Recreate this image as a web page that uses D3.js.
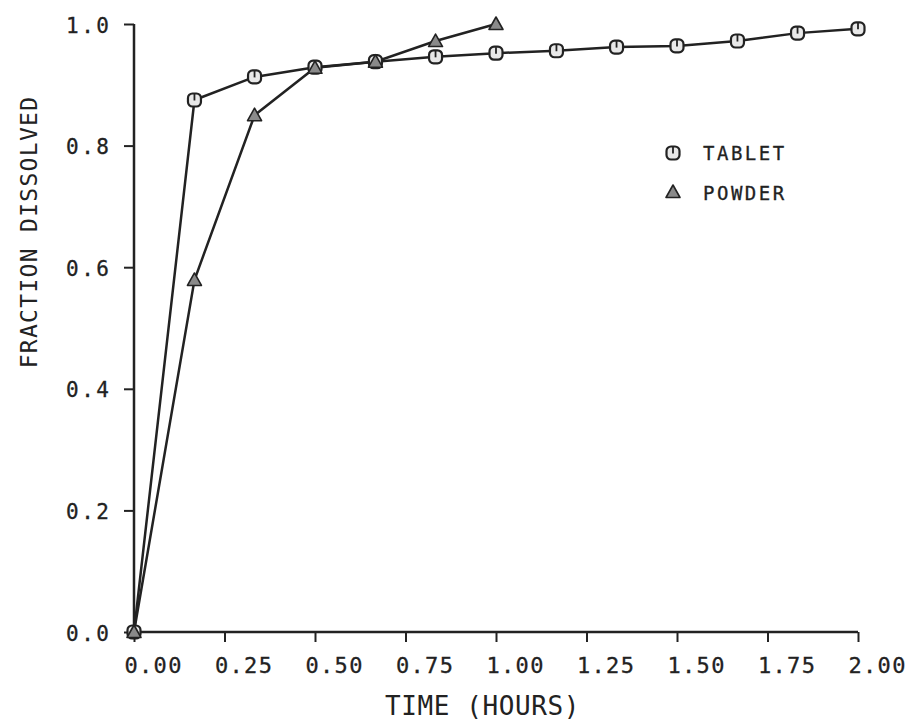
<!DOCTYPE html>
<html><head><meta charset="utf-8">
<script src="https://cdn.jsdelivr.net/npm/d3@7"></script>
<style>
html,body{margin:0;padding:0;background:#fff;}
text{font-family:"DejaVu Sans Mono",monospace;fill:#222;}
</style></head>
<body><svg id="c" width="912" height="722"></svg>
<script>
const tabletTime = [0, 0.167, 0.333, 0.5, 0.667, 0.833, 1.0, 1.167, 1.333, 1.5, 1.667, 1.833, 2.0];
const tabletFrac = [0, 0.875, 0.913, 0.929, 0.938, 0.946, 0.952, 0.956, 0.962, 0.964, 0.972, 0.985, 0.992];
const powderTime = [0, 0.167, 0.333, 0.5, 0.667, 0.833, 1.0];
const powderFrac = [0, 0.579, 0.850, 0.928, 0.938, 0.972, 1.0];
const xTicks = [0, 0.25, 0.5, 0.75, 1.0, 1.25, 1.5, 1.75, 2.0];
const xTickLabels = ["0.00","0.25","0.50","0.75","1.00","1.25","1.50","1.75","2.00"];
const yTicks = [0, 0.2, 0.4, 0.6, 0.8, 1.0];
const yTickLabels = ["0.0","0.2","0.4","0.6","0.8","1.0"];
const seriesNames = ["TABLET","POWDER"];

const svg = d3.select("#c");
const x = d3.scaleLinear().domain([0,2]).range([134,858]);
const y = d3.scaleLinear().domain([0,1]).range([632,24]);
const ink = "#222";

// X axis
const xa = svg.append("g").attr("transform","translate(0,632)")
  .call(d3.axisBottom(x).tickValues(xTicks).tickSize(10).tickFormat(""));
xa.select(".domain").attr("stroke",ink).attr("stroke-width",2.5).attr("d","M134,0H858");
xa.selectAll(".tick line").attr("stroke",ink).attr("stroke-width",2);
xa.selectAll(".tick").append("text")
  .attr("x",-10).attr("y",41).attr("text-anchor","start")
  .attr("font-size",22).attr("letter-spacing",1.3)
  .style("fill",ink).style("stroke",ink).style("stroke-width",0.3)
  .text((d,i)=>xTickLabels[i]);

// Y axis
const ya = svg.append("g").attr("transform","translate(134,0)")
  .call(d3.axisLeft(y).tickValues(yTicks).tickSize(10).tickFormat(""));
ya.select(".domain").attr("stroke",ink).attr("stroke-width",2.5).attr("d","M0,632V24");
ya.selectAll(".tick line").attr("stroke",ink).attr("stroke-width",2);
ya.selectAll(".tick").append("text")
  .attr("x",-68).attr("y",8).attr("text-anchor","start")
  .attr("font-size",21).attr("letter-spacing",2.5)
  .style("fill",ink).style("stroke",ink).style("stroke-width",0.3)
  .text((d,i)=>yTickLabels[i]);

// Axis titles
svg.append("text").attr("x",385).attr("y",715)
  .attr("font-size",26).attr("letter-spacing",0.6).text("TIME (HOURS)");
svg.append("text").attr("transform","translate(37,232) rotate(-90)")
  .attr("text-anchor","middle").attr("font-size",23).attr("letter-spacing",1.3)
  .text("FRACTION DISSOLVED");

const line = d3.line().x(d=>x(d[0])).y(d=>y(d[1]));
const tablet = tabletTime.map((t,i)=>[t,tabletFrac[i]]);
const powder = powderTime.map((t,i)=>[t,powderFrac[i]]);

svg.append("path").datum(tablet).attr("d",line).attr("fill","none")
  .attr("stroke",ink).attr("stroke-width",2.5);
svg.append("path").datum(powder).attr("d",line).attr("fill","none")
  .attr("stroke",ink).attr("stroke-width",2.5);

function tabletMarker(g){
  g.append("rect").attr("x",-6.5).attr("y",-6.5).attr("width",13).attr("height",13)
    .attr("rx",4.5).attr("fill","#e8e8e8").attr("stroke",ink).attr("stroke-width",2.2);
  g.append("line").attr("x1",0).attr("x2",0).attr("y1",-6).attr("y2",0.5)
    .attr("stroke",ink).attr("stroke-width",1.8);
}
function powderMarker(g){
  g.append("path").attr("d","M0,-7L7,5.5L-7,5.5Z")
    .attr("fill","#8a8a8a").attr("stroke",ink).attr("stroke-width",1.6).attr("stroke-linejoin","round");
}

svg.append("g").selectAll("g").data(tablet).join("g")
  .attr("transform",d=>`translate(${x(d[0])},${y(d[1])})`)
  .each(function(){ tabletMarker(d3.select(this)); });
svg.append("g").selectAll("g").data(powder).join("g")
  .attr("transform",d=>`translate(${x(d[0])},${y(d[1])})`)
  .each(function(){ powderMarker(d3.select(this)); });

// Legend
const lg = svg.append("g");
const l1 = lg.append("g").attr("transform","translate(673,153)"); tabletMarker(l1);
const l2 = lg.append("g").attr("transform","translate(673,192)"); powderMarker(l2);
lg.append("text").attr("x",703).attr("y",160).attr("font-size",19).attr("letter-spacing",2.5)
  .style("stroke",ink).style("stroke-width",0.3).text(seriesNames[0]);
lg.append("text").attr("x",703).attr("y",200).attr("font-size",19).attr("letter-spacing",2.5)
  .style("stroke",ink).style("stroke-width",0.3).text(seriesNames[1]);
</script></body></html>
